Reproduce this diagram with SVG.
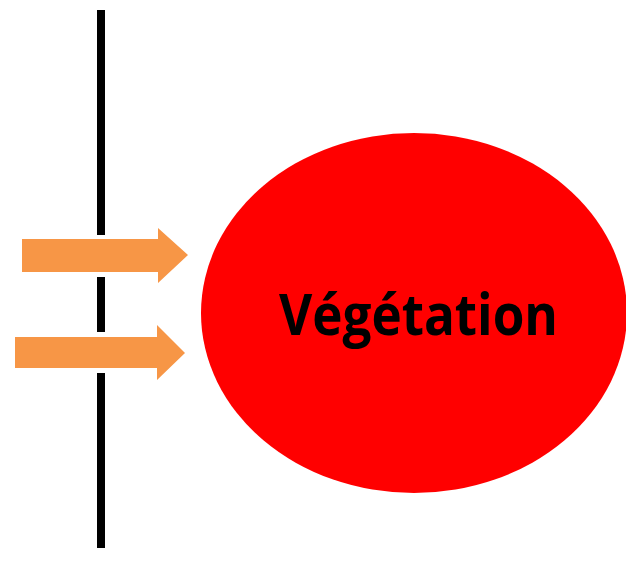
<svg xmlns="http://www.w3.org/2000/svg" width="626" height="578" viewBox="0 0 626 578">
<style>
.wall{stroke:#000;stroke-width:8;fill:none}
.arrow{fill:#F79646}
.label{font-family:"Open Sans","Liberation Sans",sans-serif;font-weight:bold;font-size:57px;fill:#000}
</style>
<rect width="626" height="578" fill="#fff"/>
<g id="wall">
<line class="wall" x1="101" y1="10" x2="101" y2="235"/>
<line class="wall" x1="101" y1="277" x2="101" y2="332"/>
<line class="wall" x1="101" y1="373" x2="101" y2="548"/>
</g>
<g id="vegetation">
<ellipse cx="414" cy="313" rx="213" ry="180" fill="#FF0000"/>
<text class="label" x="279" y="335" textLength="279" lengthAdjust="spacingAndGlyphs">Végétation</text>
</g>
<g id="connectors">
<polygon class="arrow" points="22,239 158,239 158,228 188,255 158,283 158,272 22,272"/>
<polygon class="arrow" points="15,337 157,337 157,325 185,353 157,380 157,368 15,368"/>
</g>
</svg>
